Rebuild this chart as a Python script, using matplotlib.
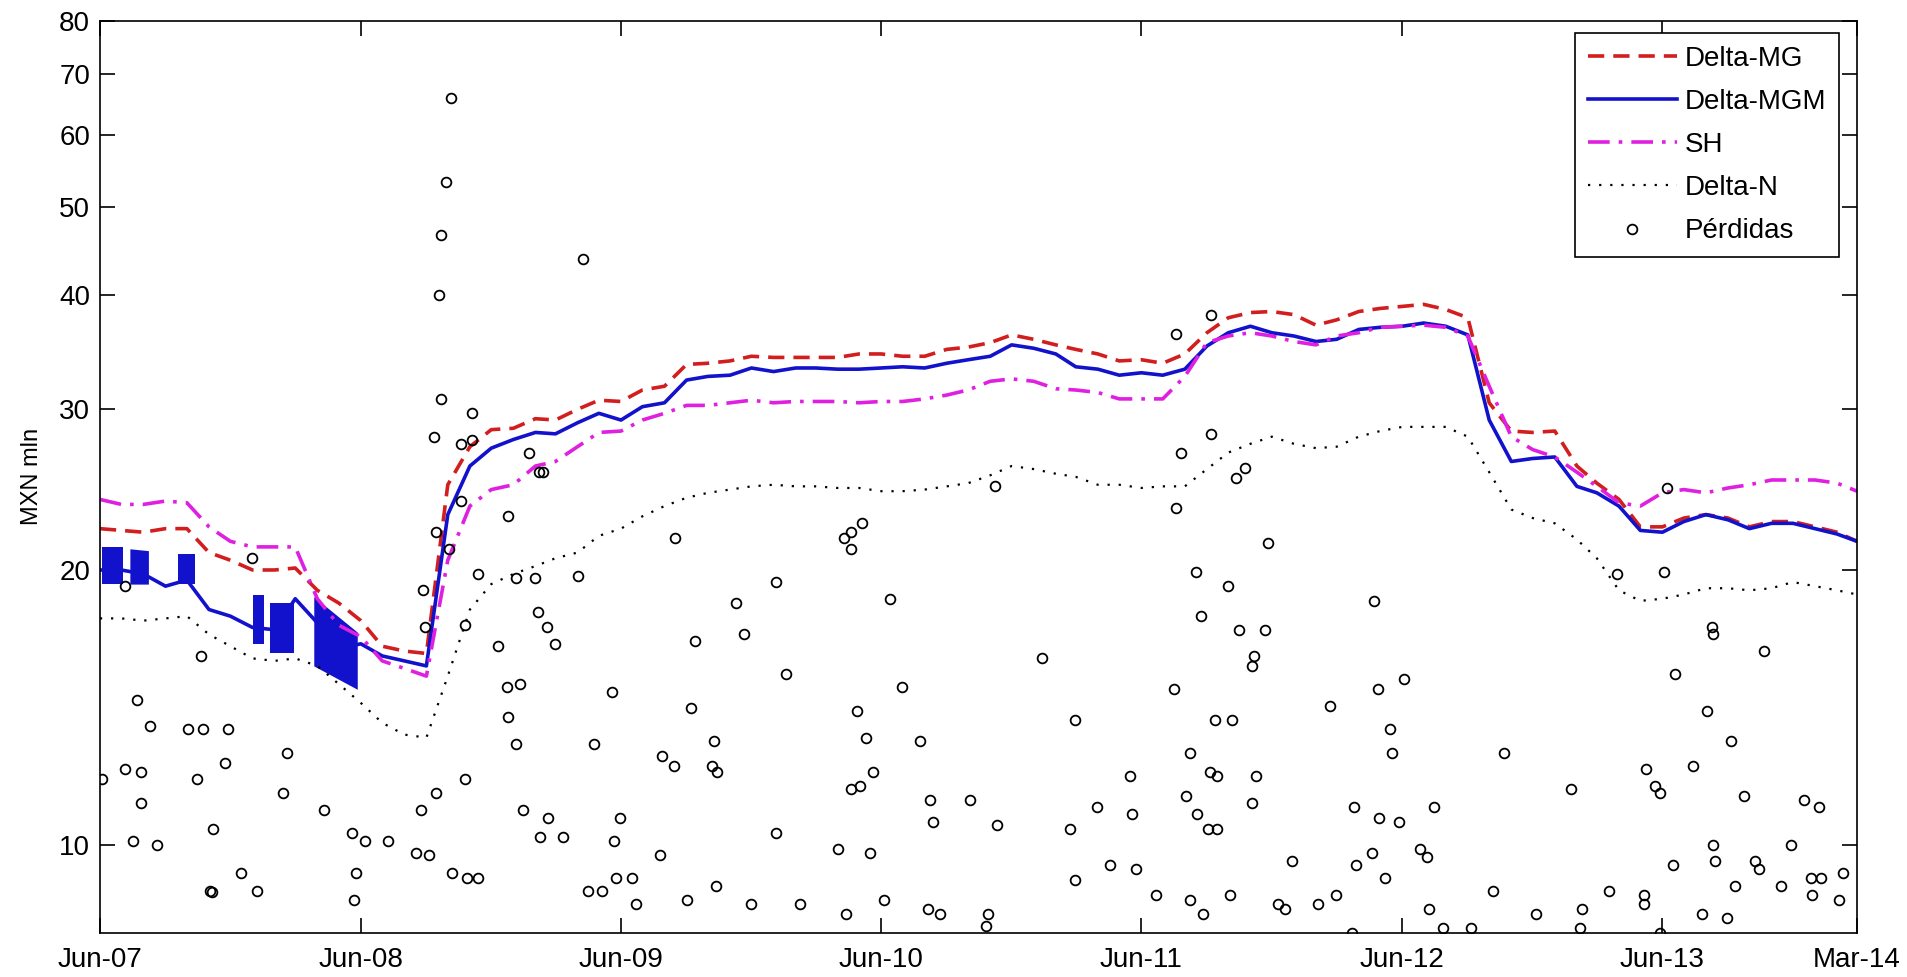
# -*- coding: utf-8 -*-
import matplotlib
matplotlib.use('Agg')
import matplotlib.pyplot as plt
from matplotlib.ticker import NullLocator
import pandas as pd

plt.rcParams['font.family'] = ['Liberation Sans', 'DejaVu Sans']

# Series mensuales, Jun-07 .. Mar-14 (MXN mln)
delta_mg = [
    22.2, 22.1, 22.0, 22.2, 22.2, 20.9, 20.5, 20.0, 20.0, 20.1,
    19.0, 18.4, 17.6, 16.5, 16.3, 16.2, 24.8, 27.3, 28.5, 28.6,
    29.3, 29.2, 30.0, 30.7, 30.6, 31.5, 31.8, 33.6, 33.7, 33.9,
    34.3, 34.2, 34.2, 34.2, 34.2, 34.5, 34.5, 34.3, 34.3, 34.9,
    35.1, 35.5, 36.2, 35.8, 35.3, 34.9, 34.5, 33.9, 34.0, 33.7,
    34.5, 36.4, 37.8, 38.3, 38.4, 38.1, 37.1, 37.6, 38.4, 38.7,
    38.9, 39.1, 38.6, 37.8, 30.5, 28.4, 28.3, 28.4, 26.0, 24.9,
    23.9, 22.3, 22.3, 22.8, 23.0, 22.8, 22.3, 22.6, 22.6, 22.3,
    22.0, 21.5]

delta_mgm = [
    20.0, 20.0, 19.8, 19.2, 19.5, 18.1, 17.8, 17.3, 17.2, 18.6,
    17.5, 16.4, 16.6, 16.1, 15.9, 15.7, 23.0, 26.0, 27.2, 27.8,
    28.3, 28.2, 29.0, 29.7, 29.2, 30.2, 30.5, 32.3, 32.6, 32.7,
    33.3, 33.0, 33.3, 33.3, 33.2, 33.2, 33.3, 33.4, 33.3, 33.7,
    34.0, 34.3, 35.3, 35.0, 34.5, 33.4, 33.2, 32.7, 32.9, 32.7,
    33.2, 35.2, 36.4, 37.0, 36.4, 36.1, 35.6, 35.8, 36.7, 36.9,
    37.0, 37.3, 37.0, 36.2, 29.2, 26.3, 26.5, 26.6, 24.7, 24.3,
    23.5, 22.1, 22.0, 22.6, 23.0, 22.7, 22.2, 22.5, 22.5, 22.2,
    21.9, 21.5]

sh = [
    23.9, 23.6, 23.6, 23.8, 23.7, 22.3, 21.5, 21.2, 21.2, 21.2,
    18.6, 17.4, 16.9, 15.9, 15.6, 15.3, 20.5, 23.5, 24.5, 24.8,
    26.0, 26.3, 27.3, 28.3, 28.4, 29.2, 29.7, 30.3, 30.3, 30.5,
    30.7, 30.5, 30.6, 30.6, 30.6, 30.5, 30.6, 30.6, 30.8, 31.1,
    31.5, 32.2, 32.4, 32.2, 31.6, 31.5, 31.3, 30.8, 30.8, 30.8,
    32.6, 35.5, 36.1, 36.4, 36.1, 35.6, 35.3, 36.1, 36.4, 36.9,
    37.0, 37.1, 36.9, 36.1, 31.8, 28.0, 27.1, 26.6, 25.6, 24.7,
    23.7, 23.5, 24.3, 24.5, 24.3, 24.6, 24.8, 25.1, 25.1, 25.1,
    24.9, 24.4]

delta_n = [
    17.7, 17.7, 17.6, 17.7, 17.8, 17.0, 16.5, 16.0, 15.9, 16.0,
    15.7, 15.0, 14.3, 13.6, 13.2, 13.1, 15.3, 18.1, 19.3, 19.8,
    20.2, 20.6, 20.9, 21.8, 22.2, 22.9, 23.5, 24.0, 24.3, 24.5,
    24.7, 24.8, 24.7, 24.7, 24.6, 24.6, 24.4, 24.4, 24.5, 24.7,
    24.9, 25.4, 26.0, 25.8, 25.5, 25.3, 24.8, 24.8, 24.6, 24.7,
    24.7, 25.8, 26.9, 27.5, 28.0, 27.5, 27.2, 27.3, 28.0, 28.4,
    28.7, 28.7, 28.7, 28.0, 25.6, 23.3, 22.8, 22.5, 21.6, 20.6,
    19.0, 18.5, 18.6, 18.8, 19.1, 19.1, 19.0, 19.1, 19.4, 19.2,
    19.0, 18.8]

# Tramos donde Delta-MGM oscila muy rapido (dias desde 1-jun-2007)
blk_d0 = [3, 42, 110, 215, 238, 300]
blk_d1 = [33, 68, 134, 230, 272, 361]
blk_lo0 = [19.3, 19.3, 19.3, 16.6, 16.2, 15.7]
blk_lo1 = [19.3, 19.3, 19.3, 16.6, 16.2, 14.8]
blk_hi0 = [21.2, 21.1, 20.8, 18.8, 18.4, 18.7]
blk_hi1 = [21.2, 21.0, 20.8, 18.8, 18.4, 17.1]

# Perdidas observadas: dia desde 1-jun-2007, valor
loss_day = [
    3, 35, 35, 46, 52, 58, 58, 70, 80, 123, 136, 142, 144, 155, 157, 158,
    176, 180, 198, 213, 220, 257, 263, 314, 353, 356, 359, 372, 404, 444,
    450, 453, 456, 461, 469, 471, 472, 475, 478, 478, 485, 490, 493, 494,
    506, 506, 512, 512, 515, 522, 522, 531, 531, 559, 571, 572, 573, 584,
    584, 590, 593, 602, 611, 615, 616, 622, 618, 627, 628, 639, 649, 670,
    677, 685, 693, 705, 718, 721, 724, 730, 746, 752, 786, 789, 805, 807,
    823, 829, 835,
    858, 861, 864, 866, 892, 904, 914, 948, 948, 963, 982, 1035, 1044,
    1047, 1053, 1053, 1053, 1062, 1066, 1069, 1075, 1081, 1085, 1100, 1109,
    1125, 1150, 1162, 1164, 1168, 1178, 1221, 1243, 1246, 1255, 1258, 1321,
    1361, 1368, 1368, 1399, 1417, 1445, 1448, 1454, 1482, 1507, 1510, 1510,
    1516, 1523, 1529, 1529, 1538, 1539, 1545, 1547, 1555, 1557, 1559, 1559,
    1564, 1567, 1567, 1582, 1585, 1588, 1594, 1598, 1606, 1616, 1616, 1619,
    1622, 1635, 1638, 1653, 1663, 1672,
    1709, 1725, 1734, 1756, 1760, 1762, 1785, 1788, 1793, 1794, 1803, 1810,
    1813, 1822, 1830, 1852, 1862, 1865, 1871, 1884, 1924, 1955, 1970, 2014,
    2064, 2077, 2079, 2117, 2128, 2166, 2166, 2169, 2182, 2188, 2189, 2194,
    2198, 2207, 2210, 2235, 2247, 2254, 2261, 2263, 2263, 2266, 2282, 2288,
    2294, 2306, 2322, 2328, 2335, 2359, 2372, 2390, 2400, 2402, 2412, 2415,
    2440, 2446]
loss_val = [
    11.8, 19.2, 12.1, 10.1, 14.4, 12.0, 11.1, 13.5, 10.0, 13.4, 11.8, 16.1,
    13.4, 8.9, 8.87, 10.4, 12.3, 13.4, 9.3, 20.6, 8.9, 11.4, 12.6, 10.9,
    10.3, 8.7, 9.3, 10.1, 10.1, 9.8, 10.9, 19.0, 17.3, 9.75, 28.0, 22.0,
    11.4, 40.0, 46.6, 30.8, 53.2, 21.1, 65.9, 9.3, 27.5, 23.8, 17.4, 11.8,
    9.2, 29.7, 27.8, 19.8, 9.2, 16.5, 14.9, 13.8, 22.9, 19.6, 12.9, 15.0,
    10.9, 26.9, 19.6, 18.0, 25.6, 25.6, 10.2, 17.3, 10.7, 16.6, 10.2, 19.7,
    43.8, 8.9, 12.9, 8.9, 14.7, 10.1, 9.2, 10.7, 9.2, 8.6, 9.75, 12.5,
    12.2, 21.7, 8.7, 14.1, 16.7,
    12.2, 13.0, 9.0, 12.0, 18.4, 17.0, 8.6, 19.4, 10.3, 15.4, 8.6, 9.9,
    21.7, 8.4, 22.0, 21.1, 11.5, 14.0, 11.6, 22.5, 13.1, 9.8, 12.0, 8.7,
    18.6, 14.9, 13.0, 8.5, 11.2, 10.6, 8.4, 11.2, 8.14, 8.4, 24.7, 10.5,
    16.0, 10.4, 13.7, 9.15, 11.0, 9.5, 11.9, 10.8, 9.4, 8.8, 14.8, 23.4,
    36.3, 26.9, 11.3, 12.6, 8.7, 19.9, 10.8, 17.8, 8.4, 10.4, 12.0, 38.1,
    28.2, 13.7, 11.9, 10.4, 19.2, 8.8, 13.7, 25.2, 17.2, 25.9, 15.7, 11.1,
    16.1, 11.9, 17.2, 21.4, 8.6, 8.5, 9.6,
    8.6, 14.2, 8.8, 8.0, 11.0, 9.5, 9.8, 18.5, 14.8, 10.7, 9.2, 13.4,
    12.6, 10.6, 15.2, 9.9, 9.7, 8.5, 11.0, 8.1, 8.1, 8.9, 12.6, 8.4,
    11.5, 8.1, 8.5, 8.9, 19.8, 8.8, 8.6, 12.1, 11.6, 11.4, 8.0, 19.9,
    24.6, 9.5, 15.4, 12.2, 8.4, 14.0, 17.3, 17.0, 10.0, 9.6, 8.3, 13.0,
    9.0, 11.3, 9.6, 9.4, 16.3, 9.0, 10.0, 11.2, 9.2, 8.8, 11.0, 9.2,
    8.7, 9.3]

yticks = [10, 20, 30, 40, 50, 60, 70, 80]
xtick_dates = ['2007-06-01', '2008-06-01', '2009-06-01', '2010-06-01',
               '2011-06-01', '2012-06-01', '2013-06-01', '2014-03-01']
xtick_labels = ['Jun-07', 'Jun-08', 'Jun-09', 'Jun-10',
                'Jun-11', 'Jun-12', 'Jun-13', 'Mar-14']

c_red = '#D21E1E'
c_blue = '#1212CC'
c_mag = '#E020E0'

start = pd.Timestamp('2007-06-01')
months = pd.date_range('2007-06-01', '2014-03-01', freq='MS')
loss_dates = start + pd.to_timedelta(loss_day, unit='D')

fig = plt.figure(figsize=(19.07, 9.77), dpi=100)
ax = fig.add_axes([0.0524, 0.045, 0.9214, 0.9338])

ax.plot(months, delta_mg, color=c_red, lw=2.6, dashes=(4.5, 2.5), label='Delta-MG')
ax.plot(months, delta_mgm, color=c_blue, lw=2.6, label='Delta-MGM')
for i in range(len(blk_d0)):
    d = start + pd.to_timedelta([blk_d0[i], blk_d1[i]], unit='D')
    ax.fill_between(d, [blk_lo0[i], blk_lo1[i]], [blk_hi0[i], blk_hi1[i]],
                    color=c_blue, lw=0)
ax.plot(months, sh, color=c_mag, lw=2.6, dashes=(6, 2.5, 1, 2.5), label='SH')
ax.plot(months, delta_n, color='k', lw=1.6, dashes=(1, 4), label='Delta-N')
ax.plot(loss_dates, loss_val, 'o', ms=7, mfc='none', mec='k', mew=1.3,
        ls='none', label=u'Pérdidas')

ax.set_yscale('log')
ax.set_ylim(8, 80)
ax.set_xlim(start, pd.Timestamp('2014-03-01'))
ax.set_yticks(yticks)
ax.set_yticklabels([str(v) for v in yticks])
ax.yaxis.set_minor_locator(NullLocator())
ax.set_xticks(pd.to_datetime(xtick_dates))
ax.set_xticklabels(xtick_labels)

ax.tick_params(direction='in', top=True, right=True, length=11, width=1.2,
               labelsize=20)
ax.tick_params(axis='x', pad=10)
ax.tick_params(axis='y', pad=7)
for s in ax.spines.values():
    s.set_linewidth(1.2)

ax.set_ylabel('MXN mln', fontsize=17, labelpad=12)

leg = ax.legend(loc='upper right', bbox_to_anchor=(1839 / 1907, 1 - 33 / 977),
                bbox_transform=fig.transFigure, fontsize=20, fancybox=False,
                edgecolor='k', framealpha=1, borderpad=0.45, labelspacing=0.62,
                handlelength=3.2, handletextpad=0.3, borderaxespad=0)
leg.get_frame().set_linewidth(1.2)

fig.savefig('out.png', dpi=100)
